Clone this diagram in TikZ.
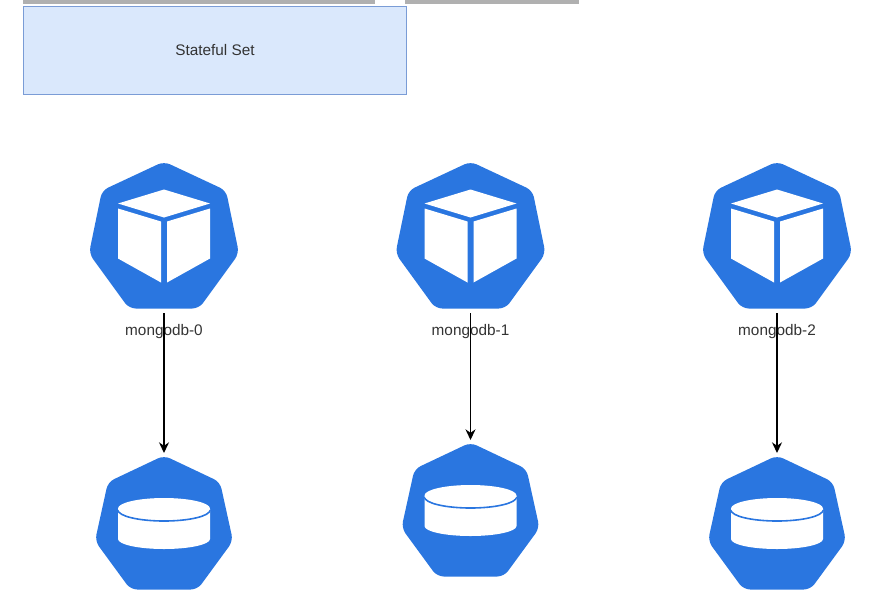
\documentclass[tikz,border=0pt]{standalone}
\usepackage{fontspec}
\setmainfont{Liberation Sans}
\usepackage{tikz}
\usetikzlibrary{arrows.meta}
\usepackage{xcolor}
\definecolor{kubeblue}{HTML}{2A76E0}
\definecolor{setfill}{HTML}{DAE8FC}
\definecolor{setline}{HTML}{7A9CD6}
\definecolor{bargray}{HTML}{B0B0B0}
\tikzset{
  podicon/.pic={
    \fill[kubeblue,rounded corners=5] (0,-74) -- (62,-45) -- (75,18) -- (35,73) -- (-35,73) -- (-75,18) -- (-62,-45) -- cycle;
    \fill[white] (0,-46) -- (46,-32) -- (0,-18) -- (-46,-32) -- cycle;
    \fill[white] (-46,-27) -- (-3,-14) -- (-3,47) -- (-46,23) -- cycle;
    \fill[white] (3,-14) -- (46,-27) -- (46,23) -- (3,47) -- cycle;
  },
  volicon/.pic={
    \fill[kubeblue,rounded corners=5] (0,-67.5) -- (56,-41) -- (69,18) -- (33.5,66.5) -- (-33.5,66.5) -- (-69,18) -- (-56,-41) -- cycle;
    \fill[white] (-46,-14) -- (-46,16) arc[start angle=180,end angle=0,x radius=46,y radius=10] -- (46,-14) -- cycle;
    \draw[kubeblue,line width=1.2] (-46,-13) arc[start angle=180,end angle=0,x radius=46,y radius=11];
    \fill[white] (0,-14.5) ellipse [x radius=46,y radius=10.5];
  },
  podlabel/.style={font=\fontsize{11.5}{14}\selectfont,text=black!80},
}
\begin{document}
\begin{tikzpicture}[x=0.75pt,y=-0.75pt,>={Stealth[length=8pt,width=7.5pt]}]
  \useasboundingbox (0,0) rectangle (870,604);
  \fill[bargray] (23,0) rectangle (375,4);
  \fill[bargray] (405,0) rectangle (579,4);
  \node[draw=setline,fill=setfill,line width=0.75pt,minimum width=287.5pt,minimum height=66.5pt,inner sep=0,podlabel] (set) at (215,50.5) {Stateful Set};
  \foreach \n/\x/\y/\t in {0/164/523/453,1/470.5/510/440,2/777/523/453} {
    \pic at (\x,235.5) {podicon};
    \pic at (\x,\y) {volicon};
    \coordinate (pod\n) at (\x,313);
    \coordinate (vol\n) at (\x,\t);
    \node[podlabel] (name\n) at (\x,331.5) {mongodb-\n};
    \draw[->,line width=1pt] (pod\n) -- (vol\n);
  }
\end{tikzpicture}
\end{document}
